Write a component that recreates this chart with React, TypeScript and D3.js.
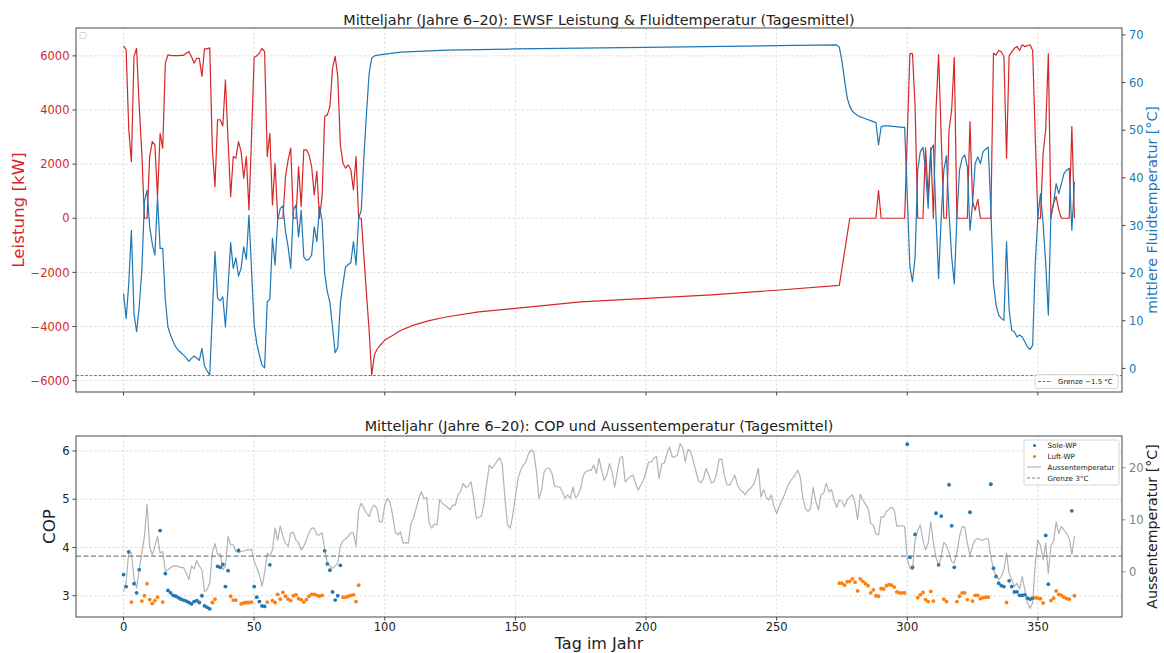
import React from "react";
import * as d3 from "d3";

// ---------- DATA ----------
const xTicks = [0, 50, 100, 150, 200, 250, 300, 350];
const powerTicks = [-6000, -4000, -2000, 0, 2000, 4000, 6000];
const fluidTicks = [0, 10, 20, 30, 40, 50, 60, 70];
const copTicks = [3, 4, 5, 6];
const airTicks = [0, 10, 20];

// EWSF Leistung [kW], daily values day 0..95
const powerEarly = [
  6370, 6220, 3270, 2090, 5980, 6280, 4130, 2400, 0, 0,
  2280, 2830, 2710, 800, 3140, 2590, 5730, 6040, 6020, 6010,
  6010, 6010, 6020, 6020, 6100, 6160, 5980, 5730, 5910, 5910,
  5240, 6260, 6260, 6300, 2530, 1170, 3640, 3640, 3410, 5110,
  2900, 800, 2280, 2220, 2830, 2460, 1480, 2280, 310, 3000,
  5950, 6000, 6100, 6280, 6160, 2280, 3140, 490, 2030, 0,
  0, 0, 1540, 2160, 2590, 0, 0, 1910, 430, 2530,
  2530, 2340, 1910, 860, 1730, 0, 800, 3760, 3820, 4130,
  5550, 5980, 5240, 2710, 2030, 1850, 1970, 1790, 1050, 2280,
  0, 0, -1400, -2800, -4150, -5800,
];
// Leistung in summer (day, kW)
const powerMid: [number, number][] = [
  [96, -5050], [97, -4850], [98, -4720], [100, -4500], [103, -4330], [106, -4150],
  [111, -3950], [117, -3780], [124, -3640], [136, -3460], [150, -3330], [175, -3090],
  [200, -2960], [225, -2830], [250, -2660], [274, -2480],
];
// daily values day 278..364
const powerLateStart = 278;
const powerLate = [
  0, 0, 0, 0, 0, 0, 0, 0, 0, 0,
  0, 1020, 0, 0, 0, 0, 0, 0, 0, 0,
  0, 0, 3000, 6080, 6080, 4130, 0, 0, 0, 2600,
  800, 2600, 0, 4000, 6050, 3000, 0, 0, 3270, 4000,
  5950, 0, 0, 0, 0, 0, 3570, 600, 300, 700,
  0, 0, 0, 0, 0, 6100, 6030, 6200, 6150, 5970,
  2220, 6000, 6150, 6280, 6350, 6200, 6410, 6340, 6380, 6410,
  6200, 3000, 0, 0, 2400, 3270, 6080, 0, 550, 800,
  300, 0, 0, 0, 0, 3390, 0,
];

// mittlere Fluidtemperatur [°C], daily day 0..95
const fluidEarly = [
  15.7, 10.5, 17.8, 29.0, 11.5, 7.7, 12.9, 20.6, 35.0, 37.4,
  29.7, 26.2, 23.8, 36.0, 25.2, 25.2, 14.3, 8.7, 7.0, 5.6,
  4.5, 3.8, 3.3, 2.8, 2.2, 1.5, 2.1, 2.6, 2.2, 1.7,
  4.2, 0.5, -0.5, -1.4, 11.5, 24.5, 14.7, 14.2, 15.0, 8.7,
  17.0, 26.4, 21.0, 23.2, 19.4, 21.0, 25.5, 22.9, 32.2, 20.6,
  9.1, 5.2, 2.8, 0.7, 0.1, 14.0, 14.5, 27.3, 21.7, 31.1,
  33.6, 34.1, 28.7, 25.5, 21.0, 33.2, 34.3, 27.6, 33.2, 23.4,
  22.7, 22.9, 23.8, 29.7, 26.6, 33.9, 31.1, 19.9, 16.1, 13.8,
  8.7, 3.3, 4.4, 13.6, 17.8, 21.3, 21.8, 22.2, 26.6, 21.7,
  31.5, 33.2, 44.4, 53.5, 61.9, 65.1,
];
const fluidMid: [number, number][] = [
  [96, 65.6], [98, 65.8], [106, 66.4], [124, 66.8], [150, 67.05], [200, 67.4],
  [250, 67.75], [273, 67.9],
];
const fluidLateStart = 274;
const fluidLate = [
  67.4, 64.5, 60.5, 56.8, 55.0, 54.0, 53.5, 53.1, 52.8, 52.6,
  52.4, 52.2, 52.0, 51.8, 51.6, 46.9, 50.7, 50.9, 50.9, 50.9,
  50.8, 50.8, 50.7, 50.7, 50.6, 50.6, 36.0, 21.3, 18.2, 23.4,
  41.6, 45.5, 46.4, 41.6, 33.6, 45.8, 46.9, 31.8, 18.9, 31.8,
  41.6, 44.6, 32.5, 23.4, 17.8, 31.8, 41.6, 44.1, 44.8, 42.3,
  29.0, 34.6, 43.0, 44.4, 43.0, 45.5, 46.0, 46.4, 33.2, 17.8,
  13.3, 11.2, 10.5, 10.1, 26.6, 12.2, 8.0, 7.7, 6.6, 7.0,
  6.6, 5.6, 4.5, 4.0, 4.9, 22.0, 31.8, 36.7, 30.4, 22.0,
  11.2, 32.5, 34.6, 38.8, 36.7, 38.8, 40.9, 41.6, 42.0, 29.0,
  39.2,
];

// Aussentemperatur [°C], daily day 0..364
const airTemp = [
  -3.8, -1.9, 3.9, 3.6, -1.2, -3.1, 0.4, 3.6, 6.8, 13.0,
  4.9, 3.3, 4.9, 6.8, 3.6, 3.9, 0.1, 0.4, 0.8, 1.1,
  1.2, 1.0, 0.8, 0.8, -0.2, -1.5, 1.1, 0.6, 2.1, 1.1,
  0.4, -3.8, -3.4, -2.1, 3.6, 5.4, 3.3, 3.5, 0.4, 1.1,
  6.8, 5.2, 5.2, 3.9, 3.7, 3.9, 4.0, 4.2, 4.2, 4.3,
  2.0, 0.8, -0.5, -2.8, -0.2, 3.6, 3.0, 4.2, 8.4, 6.1,
  8.8, 6.8, 5.5, 4.9, 7.5, 7.6, 6.1, 5.6, 4.2, 4.9,
  6.1, 7.5, 8.4, 8.4, 7.1, 7.1, 7.5, 4.2, 1.7, 1.1,
  0.7, 1.1, 1.7, 4.9, 6.0, 6.3, 6.8, 7.5, 7.5, 4.9,
  11.9, 13.2, 12.2, 11.3, 10.6, 12.2, 12.8, 12.2, 9.6, 9.6,
  12.8, 14.1, 13.4, 10.9, 7.7, 7.1, 7.7, 5.5, 5.6, 5.5,
  9.3, 10.3, 12.2, 14.1, 15.4, 14.1, 14.3, 9.3, 8.4, 9.2,
  9.0, 13.9, 13.2, 12.8, 12.4, 11.9, 12.8, 12.8, 14.8, 15.4,
  17.0, 16.2, 16.5, 17.3, 14.4, 10.3, 10.5, 10.7, 13.2, 17.0,
  20.5, 19.9, 20.5, 21.3, 21.9, 20.5, 14.1, 9.0, 8.4, 10.9,
  14.4, 17.9, 19.5, 20.5, 21.1, 22.7, 23.4, 23.1, 19.5, 14.1,
  15.7, 19.2, 19.9, 19.9, 18.9, 16.5, 16.3, 16.3, 15.4, 14.1,
  14.8, 14.1, 16.3, 14.2, 14.8, 16.0, 18.6, 19.2, 19.5, 19.5,
  20.5, 18.9, 21.8, 19.5, 17.6, 18.6, 20.8, 19.2, 16.3, 19.2,
  21.8, 22.2, 17.3, 17.8, 18.3, 18.6, 17.0, 15.7, 16.7, 17.6,
  19.2, 21.1, 21.1, 21.8, 22.2, 17.9, 20.7, 20.9, 22.7, 24.0,
  22.1, 22.1, 22.4, 24.6, 24.0, 21.1, 23.5, 23.2, 21.5, 19.5,
  17.6, 17.1, 17.9, 19.9, 18.6, 17.1, 17.3, 18.9, 21.6, 21.6,
  18.6, 16.7, 16.7, 17.6, 18.6, 16.7, 15.8, 15.4, 14.8, 15.7,
  16.0, 16.7, 17.9, 19.9, 14.4, 15.8, 14.4, 13.8, 14.8, 12.5,
  11.2, 12.5, 13.8, 14.8, 16.2, 17.3, 17.9, 18.6, 19.5, 18.3,
  14.4, 12.2, 11.6, 12.2, 16.2, 13.5, 11.9, 14.8, 15.1, 17.0,
  15.4, 15.8, 13.8, 12.4, 13.8, 13.5, 12.5, 13.8, 14.4, 14.8,
  13.2, 10.0, 14.9, 13.8, 13.0, 12.2, 9.3, 9.0, 7.3, 7.1,
  10.6, 10.5, 11.6, 12.0, 12.4, 11.9, 8.8, 8.8, 8.9, 8.7,
  2.5, 0.7, 0.4, 6.1, 8.0, 9.0, 6.1, 4.2, 5.5, 9.6,
  5.5, 2.9, 1.0, 2.9, 5.6, 5.1, 3.6, 2.0, 1.7, 3.6,
  6.8, 8.7, 8.6, 5.5, 3.1, 5.1, 6.1, 6.4, 6.1, 6.1,
  6.4, 6.3, 2.9, 0.4, -0.6, -1.5, -0.9, 0.5, 3.6, -0.3,
  -1.5, -2.8, -2.2, -3.3, -0.9, -3.4, -6.0, -7.0, -6.0, 1.7,
  6.1, 5.1, 2.3, 5.5, -0.3, 5.1, 5.8, 9.6, 7.4, 8.7,
  8.0, 7.4, 6.4, 3.3, 6.8,
];

// COP Sole-WP (day, COP)
const copSole: [number, number][] = [
  [0, 3.44], [1, 3.19], [2, 3.91], [4, 3.25], [5, 3.06], [6, 3.54], [14, 4.35], [16, 3.46],
  [17, 3.11], [18, 3.06], [19, 3.01], [20, 2.99], [21, 2.96], [22, 2.93], [23, 2.91], [24, 2.89],
  [25, 2.86], [26, 2.83], [27, 2.88], [28, 2.9], [29, 2.86], [30, 3.0], [31, 2.79], [32, 2.76],
  [33, 2.73], [36, 3.61], [37, 3.59], [38, 3.65], [39, 3.19], [40, 3.52], [44, 3.94], [50, 3.19],
  [51, 2.97], [52, 2.88], [53, 2.79], [54, 2.78], [56, 3.64], [77, 3.93], [78, 3.66], [79, 3.53],
  [80, 3.08], [81, 2.91], [82, 3.0], [83, 3.63],
  [300, 6.14], [301, 3.8], [302, 3.59], [303, 4.27], [311, 4.71], [312, 3.64], [313, 4.65],
  [316, 5.3], [317, 4.45], [318, 3.59], [324, 4.73], [332, 5.31], [333, 3.57], [334, 3.4],
  [335, 3.26], [336, 3.21], [337, 3.19], [339, 3.31], [340, 3.19], [341, 3.08], [342, 3.08],
  [343, 3.01], [344, 3.01], [345, 3.02], [346, 2.95], [347, 2.93], [348, 2.95], [353, 4.25],
  [354, 3.24], [363, 4.76],
];
// COP Luft-WP (day, COP)
const copLuft: [number, number][] = [
  [3, 2.87], [7, 2.89], [8, 3.0], [9, 3.25], [10, 2.92], [11, 2.84], [12, 2.9], [13, 2.97],
  [15, 2.87], [34, 2.86], [35, 2.93], [41, 2.99], [42, 2.91], [43, 2.91], [45, 2.83], [46, 2.85],
  [47, 2.86], [48, 2.86], [49, 2.87], [55, 2.87], [57, 2.9], [58, 2.86], [59, 3.03], [60, 2.93],
  [61, 3.07], [62, 2.99], [63, 2.93], [64, 2.9], [65, 3.0], [66, 3.02], [67, 2.94], [68, 2.92],
  [69, 2.87], [70, 2.92], [71, 2.99], [72, 3.03], [73, 3.03], [74, 3.01], [75, 2.99], [76, 3.01],
  [84, 2.97], [85, 2.97], [86, 2.99], [87, 3.01], [88, 3.02], [89, 2.88], [90, 3.22],
  [274, 3.26], [275, 3.26], [276, 3.22], [277, 3.29], [278, 3.3], [279, 3.35], [280, 3.28],
  [281, 3.1], [282, 3.35], [283, 3.3], [284, 3.25], [285, 3.21], [286, 3.06], [287, 3.12],
  [288, 3.0], [289, 2.99], [290, 3.15], [291, 3.14], [292, 3.21], [293, 3.23], [294, 3.22],
  [295, 3.18], [296, 3.08], [297, 3.06], [298, 3.06], [299, 3.06], [304, 2.96], [305, 3.02],
  [306, 3.07], [307, 2.92], [308, 2.88], [309, 3.09], [310, 2.89], [314, 2.93], [315, 2.88],
  [319, 2.88], [320, 2.99], [321, 3.06], [322, 3.06], [323, 2.92], [325, 2.89], [326, 3.01],
  [327, 3.01], [328, 2.94], [329, 2.96], [330, 2.97], [331, 2.97], [338, 2.86], [349, 2.96],
  [350, 2.95], [351, 2.94], [352, 2.85], [355, 2.9], [356, 2.95], [357, 3.1], [358, 3.03],
  [359, 3.01], [360, 2.97], [361, 2.94], [362, 2.93], [364, 3.0],
];

const fluidLimit = -1.5;
const airLimit = 3;

const topTitle = "Mitteljahr (Jahre 6–20): EWSF Leistung & Fluidtemperatur (Tagesmittel)";
const botTitle = "Mitteljahr (Jahre 6–20): COP und Aussentemperatur (Tagesmittel)";

// ---------- CHART ----------
const FONT = "'DejaVu Sans', sans-serif";
const RED = "#d62728";
const BLUE = "#1f77b4";
const ORANGE = "#ff7f0e";

export default function App() {
  const top = { l: 76, r: 1122, t: 28, b: 392 };
  const bot = { l: 76, r: 1122, t: 436, b: 617 };

  const x = d3.scaleLinear().domain([-18.2, 382.2]).range([top.l, top.r]);
  const yP = d3.scaleLinear().domain([-6420, 7030]).range([top.b, top.t]);
  const yF = d3.scaleLinear().domain([-4.95, 71.45]).range([top.b, top.t]);
  const yC = d3.scaleLinear().domain([2.56, 6.31]).range([bot.b, bot.t]);
  const yA = d3.scaleLinear().domain([-8.68, 26.1]).range([bot.b, bot.t]);

  const powerPts: [number, number][] = [
    ...powerEarly.map((v, i) => [i, v] as [number, number]),
    ...powerMid,
    ...powerLate.map((v, i) => [powerLateStart + i, v] as [number, number]),
  ];
  const fluidPts: [number, number][] = [
    ...fluidEarly.map((v, i) => [i, v] as [number, number]),
    ...fluidMid,
    ...fluidLate.map((v, i) => [fluidLateStart + i, v] as [number, number]),
  ];
  const airPts: [number, number][] = airTemp.map((v, i) => [i, v]);

  const linePower = d3.line<[number, number]>().x((d) => x(d[0])).y((d) => yP(d[1]));
  const lineFluid = d3.line<[number, number]>().x((d) => x(d[0])).y((d) => yF(d[1]));
  const lineAir = d3.line<[number, number]>().x((d) => x(d[0])).y((d) => yA(d[1]));

  const gridStyle = { stroke: "#b0b0b0", strokeWidth: 0.7, strokeDasharray: "2.5,2", opacity: 0.6 };
  const tickLen = 3.5;
  const tickFs = 11.5;

  return (
    <svg
      width={1164}
      height={653}
      viewBox="0 0 1164 653"
      style={{ position: "absolute", left: 0, top: 0, background: "#fff" }}
      fontFamily={FONT}
    >
      <rect x={0} y={0} width={1164} height={653} fill="#fff" />

      {/* ================= TOP PANEL ================= */}
      <text x={(top.l + top.r) / 2} y={24.5} textAnchor="middle" fontSize={14.4} fill="#222">
        {topTitle}
      </text>
      {xTicks.map((t) => (
        <line key={"tgx" + t} x1={x(t)} x2={x(t)} y1={top.t} y2={top.b} {...gridStyle} />
      ))}
      {powerTicks.map((t) => (
        <line key={"tgy" + t} x1={top.l} x2={top.r} y1={yP(t)} y2={yP(t)} {...gridStyle} />
      ))}
      <path d={linePower(powerPts) || ""} fill="none" stroke={RED} strokeWidth={1.2} strokeLinejoin="round" />
      <path d={lineFluid(fluidPts) || ""} fill="none" stroke={BLUE} strokeWidth={1.2} strokeLinejoin="round" />
      <line x1={top.l} x2={top.r} y1={yF(fluidLimit)} y2={yF(fluidLimit)} stroke="#555" strokeWidth={0.8} strokeDasharray="3,1.5" />
      <rect x={top.l} y={top.t} width={top.r - top.l} height={top.b - top.t} fill="none" stroke="#333" strokeWidth={0.9} />
      {xTicks.map((t) => (
        <line key={"ttx" + t} x1={x(t)} x2={x(t)} y1={top.b} y2={top.b + tickLen} stroke="#333" strokeWidth={0.9} />
      ))}
      {powerTicks.map((t) => (
        <g key={"tly" + t}>
          <line x1={top.l - tickLen} x2={top.l} y1={yP(t)} y2={yP(t)} stroke="#333" strokeWidth={0.9} />
          <text x={top.l - tickLen - 3} y={yP(t)} dy="0.36em" textAnchor="end" fontSize={tickFs} fill={RED}>
            {t < 0 ? "−" + Math.abs(t) : String(t)}
          </text>
        </g>
      ))}
      {fluidTicks.map((t) => (
        <g key={"try" + t}>
          <line x1={top.r} x2={top.r + tickLen} y1={yF(t)} y2={yF(t)} stroke="#333" strokeWidth={0.9} />
          <text x={top.r + tickLen + 3.5} y={yF(t)} dy="0.36em" textAnchor="start" fontSize={tickFs} fill={BLUE}>
            {t}
          </text>
        </g>
      ))}
      <text transform={`translate(24,${(top.t + top.b) / 2}) rotate(-90)`} textAnchor="middle" fontSize={16.7} fill={RED}>
        Leistung [kW]
      </text>
      <text transform={`translate(1157,${(top.t + top.b) / 2}) rotate(-90)`} textAnchor="middle" fontSize={14.2} fill={BLUE}>
        mittlere Fluidtemperatur [°C]
      </text>
      <rect x={80} y={32.5} width={6} height={6} rx={1} fill="#fff" stroke="#ccc" strokeWidth={0.8} />
      <g>
        <rect x={1035} y={374.5} width={83} height={14} rx={2} fill="#fff" fillOpacity={0.85} stroke="#ccc" strokeWidth={0.8} />
        <line x1={1038} x2={1052} y1={381.5} y2={381.5} stroke="#555" strokeWidth={0.8} strokeDasharray="3,1.5" />
        <text x={1058} y={381.5} dy="0.35em" fontSize={7} fill="#222">
          Grenze −1.5 °C
        </text>
      </g>

      {/* ================= BOTTOM PANEL ================= */}
      <text x={(bot.l + bot.r) / 2} y={431} textAnchor="middle" fontSize={14.4} fill="#222">
        {botTitle}
      </text>
      {xTicks.map((t) => (
        <line key={"bgx" + t} x1={x(t)} x2={x(t)} y1={bot.t} y2={bot.b} {...gridStyle} />
      ))}
      {copTicks.map((t) => (
        <line key={"bgy" + t} x1={bot.l} x2={bot.r} y1={yC(t)} y2={yC(t)} {...gridStyle} />
      ))}
      {copSole.map((d, i) => (
        <circle key={"s" + i} cx={x(d[0])} cy={yC(d[1])} r={1.9} fill={BLUE} />
      ))}
      {copLuft.map((d, i) => (
        <circle key={"l" + i} cx={x(d[0])} cy={yC(d[1])} r={1.9} fill={ORANGE} />
      ))}
      <path d={lineAir(airPts) || ""} fill="none" stroke="#808080" strokeOpacity={0.6} strokeWidth={1.2} strokeLinejoin="round" />
      <line x1={bot.l} x2={bot.r} y1={yA(airLimit)} y2={yA(airLimit)} stroke="#808080" strokeWidth={1.2} strokeDasharray="5,2.5" />
      <rect x={bot.l} y={bot.t} width={bot.r - bot.l} height={bot.b - bot.t} fill="none" stroke="#333" strokeWidth={0.9} />
      {xTicks.map((t) => (
        <g key={"btx" + t}>
          <line x1={x(t)} x2={x(t)} y1={bot.b} y2={bot.b + tickLen} stroke="#333" strokeWidth={0.9} />
          <text x={x(t)} y={630.5} textAnchor="middle" fontSize={tickFs} fill="#222">
            {t}
          </text>
        </g>
      ))}
      {copTicks.map((t) => (
        <g key={"bly" + t}>
          <line x1={bot.l - tickLen} x2={bot.l} y1={yC(t)} y2={yC(t)} stroke="#333" strokeWidth={0.9} />
          <text x={bot.l - tickLen - 3} y={yC(t)} dy="0.36em" textAnchor="end" fontSize={tickFs} fill="#222">
            {t}
          </text>
        </g>
      ))}
      {airTicks.map((t) => (
        <g key={"bry" + t}>
          <line x1={bot.r} x2={bot.r + tickLen} y1={yA(t)} y2={yA(t)} stroke="#808080" strokeWidth={0.9} />
          <text x={bot.r + tickLen + 3.5} y={yA(t)} dy="0.36em" textAnchor="start" fontSize={tickFs} fill="#808080">
            {t}
          </text>
        </g>
      ))}
      <text x={(bot.l + bot.r) / 2} y={649} textAnchor="middle" fontSize={16} fill="#222">
        Tag im Jahr
      </text>
      <text transform={`translate(55,${(bot.t + bot.b) / 2}) rotate(-90)`} textAnchor="middle" fontSize={16.7} fill="#222">
        COP
      </text>
      <text transform={`translate(1157,${(bot.t + bot.b) / 2}) rotate(-90)`} textAnchor="middle" fontSize={14.2} fill="#222">
        Aussentemperatur [°C]
      </text>
      <g>
        <rect x={1024} y={440} width={95} height={45} rx={2} fill="#fff" fillOpacity={0.85} stroke="#ccc" strokeWidth={0.8} />
        <circle cx={1034.5} cy={445.5} r={1.6} fill={BLUE} />
        <text x={1047.5} y={445.5} dy="0.35em" fontSize={7.2} fill="#222">Sole-WP</text>
        <circle cx={1034.5} cy={456.5} r={1.6} fill={ORANGE} />
        <text x={1047.5} y={456.5} dy="0.35em" fontSize={7.2} fill="#222">Luft-WP</text>
        <line x1={1027} x2={1041} y1={467} y2={467} stroke="#808080" strokeOpacity={0.6} strokeWidth={1.2} />
        <text x={1047.5} y={467} dy="0.35em" fontSize={7.2} fill="#222">Aussentemperatur</text>
        <line x1={1027} x2={1041} y1={478} y2={478} stroke="#808080" strokeWidth={1.2} strokeDasharray="3,2" />
        <text x={1047.5} y={478} dy="0.35em" fontSize={7.2} fill="#222">Grenze 3°C</text>
      </g>
    </svg>
  );
}
